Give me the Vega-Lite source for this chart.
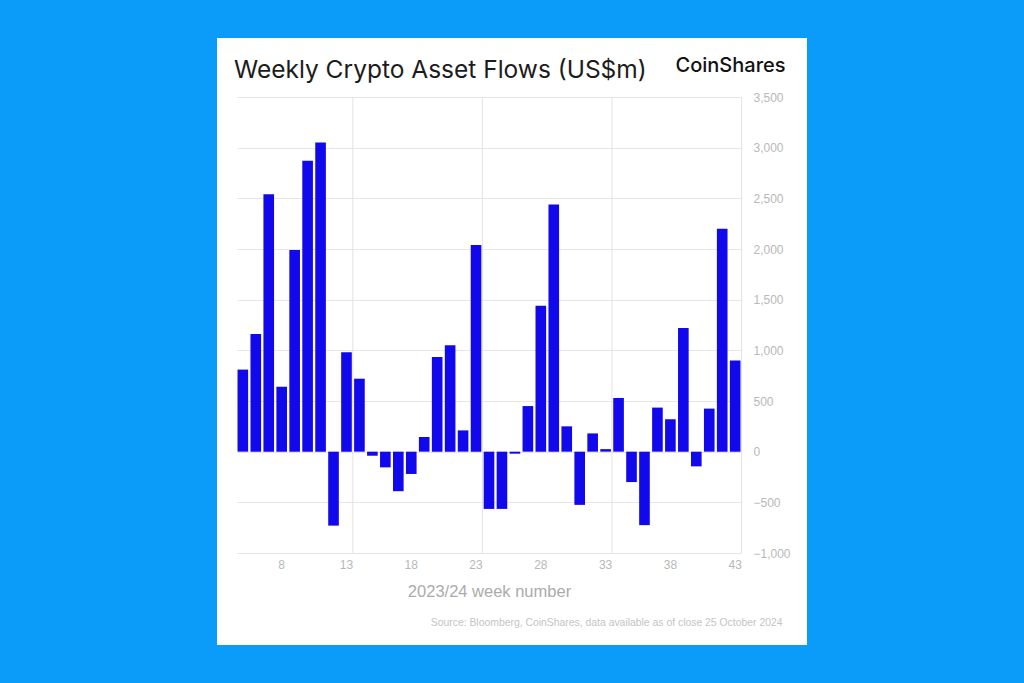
{
  "$schema": "https://vega.github.io/schema/vega-lite/v6.json",
  "width": 590,
  "height": 607,
  "autosize": {"type": "none"},
  "padding": {"left": 217, "top": 38, "right": 217, "bottom": 38},
  "background": "#0a9cf8",
  "config": {
    "view": {"fill": "white", "stroke": null},
    "font": "Liberation Sans"
  },
  "title": {
    "text": "Weekly Crypto Asset Flows (US$m)",
    "anchor": "start",
    "frame": "group",
    "font": "Inter",
    "fontSize": 24.5,
    "fontWeight": 400,
    "color": "#1c1c1c",
    "offset": -45,
    "dx": 17
  },
  "datasets": {
    "flows": [
      {"week": 5, "value": 810}, {"week": 6, "value": 1160}, {"week": 7, "value": 2540},
      {"week": 8, "value": 640}, {"week": 9, "value": 1990}, {"week": 10, "value": 2870},
      {"week": 11, "value": 3050}, {"week": 12, "value": -730}, {"week": 13, "value": 980},
      {"week": 14, "value": 720}, {"week": 15, "value": -40}, {"week": 16, "value": -155},
      {"week": 17, "value": -390}, {"week": 18, "value": -220}, {"week": 19, "value": 145},
      {"week": 20, "value": 935}, {"week": 21, "value": 1050}, {"week": 22, "value": 210},
      {"week": 23, "value": 2040}, {"week": 24, "value": -565}, {"week": 25, "value": -565},
      {"week": 26, "value": -20}, {"week": 27, "value": 450}, {"week": 28, "value": 1440},
      {"week": 29, "value": 2440}, {"week": 30, "value": 250}, {"week": 31, "value": -525},
      {"week": 32, "value": 180}, {"week": 33, "value": 25}, {"week": 34, "value": 530},
      {"week": 35, "value": -300}, {"week": 36, "value": -725}, {"week": 37, "value": 435},
      {"week": 38, "value": 320}, {"week": 39, "value": 1220}, {"week": 40, "value": -145},
      {"week": 41, "value": 425}, {"week": 42, "value": 2200}, {"week": 43, "value": 900}
    ],
    "vgrid": [{"week": 13}, {"week": 23}, {"week": 33}, {"week": 43}]
  },
  "layer": [
    {
      "data": {"name": "vgrid"},
      "mark": {"type": "rule", "color": "#e3e3e3", "strokeWidth": 1},
      "encoding": {
        "x": {"field": "week", "type": "ordinal", "bandPosition": 1.1},
        "y": {
          "datum": 3500,
          "type": "quantitative",
          "axis": {
            "orient": "left",
            "values": [-1000, -500, 0, 500, 1000, 1500, 2000, 2500, 3000, 3500],
            "labels": false,
            "ticks": false,
            "domain": false,
            "grid": true,
            "gridColor": "#e6e6e6",
            "gridWidth": 1,
            "title": "Source: Bloomberg, CoinShares, data available as of close 25 October 2024",
            "titleAngle": 0,
            "titleAlign": "right",
            "titleBaseline": "alphabetic",
            "titleX": 565,
            "titleY": 587,
            "titleFont": "Liberation Sans",
            "titleFontSize": 10.4,
            "titleFontWeight": 400,
            "titleColor": "#c4c4c4"
          }
        },
        "y2": {"datum": -1000}
      }
    },
    {
      "data": {"name": "flows"},
      "mark": {"type": "bar", "color": "#1208ec"},
      "encoding": {
        "x": {
          "field": "week",
          "type": "ordinal",
          "sort": null,
          "scale": {
            "domain": [5,6,7,8,9,10,11,12,13,14,15,16,17,18,19,20,21,22,23,24,25,26,27,28,29,30,31,32,33,34,35,36,37,38,39,40,41,42,43],
            "range": [20, 524],
            "paddingInner": 0.18,
            "paddingOuter": 0.04
          },
          "axis": {
            "orient": "bottom",
            "offset": -92,
            "bandPosition": 0.5,
            "values": [8, 13, 18, 23, 28, 33, 38, 43],
            "labelAngle": 0,
            "labelAlign": "center",
            "labelColor": "#b8b8b8",
            "labelFontSize": 12,
            "labelPadding": 11,
            "ticks": false,
            "domain": false,
            "grid": false,
            "title": "2023/24 week number",
            "titleX": 272,
            "titleY": 43,
            "titleAlign": "center",
            "titleBaseline": "alphabetic",
            "titleFontSize": 16.5,
            "titleFontWeight": 400,
            "titleColor": "#ababab"
          }
        },
        "y": {
          "field": "value",
          "type": "quantitative",
          "scale": {"domain": [-1000, 3500], "range": [515, 59], "nice": false},
          "axis": {
            "orient": "right",
            "offset": -66,
            "values": [-1000, -500, 0, 500, 1000, 1500, 2000, 2500, 3000, 3500],
            "format": ",.0f",
            "labelAlign": "left",
            "labelPadding": 12,
            "labelColor": "#b8b8b8",
            "labelFontSize": 12,
            "ticks": false,
            "domain": false,
            "grid": false,
            "title": "CoinShares",
            "titleAngle": 0,
            "titleAlign": "right",
            "titleBaseline": "alphabetic",
            "titleX": 44,
            "titleY": 33,
            "titleFont": "Inter",
            "titleFontSize": 20,
            "titleFontWeight": 500,
            "titleColor": "#111111"
          }
        }
      }
    }
  ],
  "resolve": {"axis": {"y": "independent"}}
}
